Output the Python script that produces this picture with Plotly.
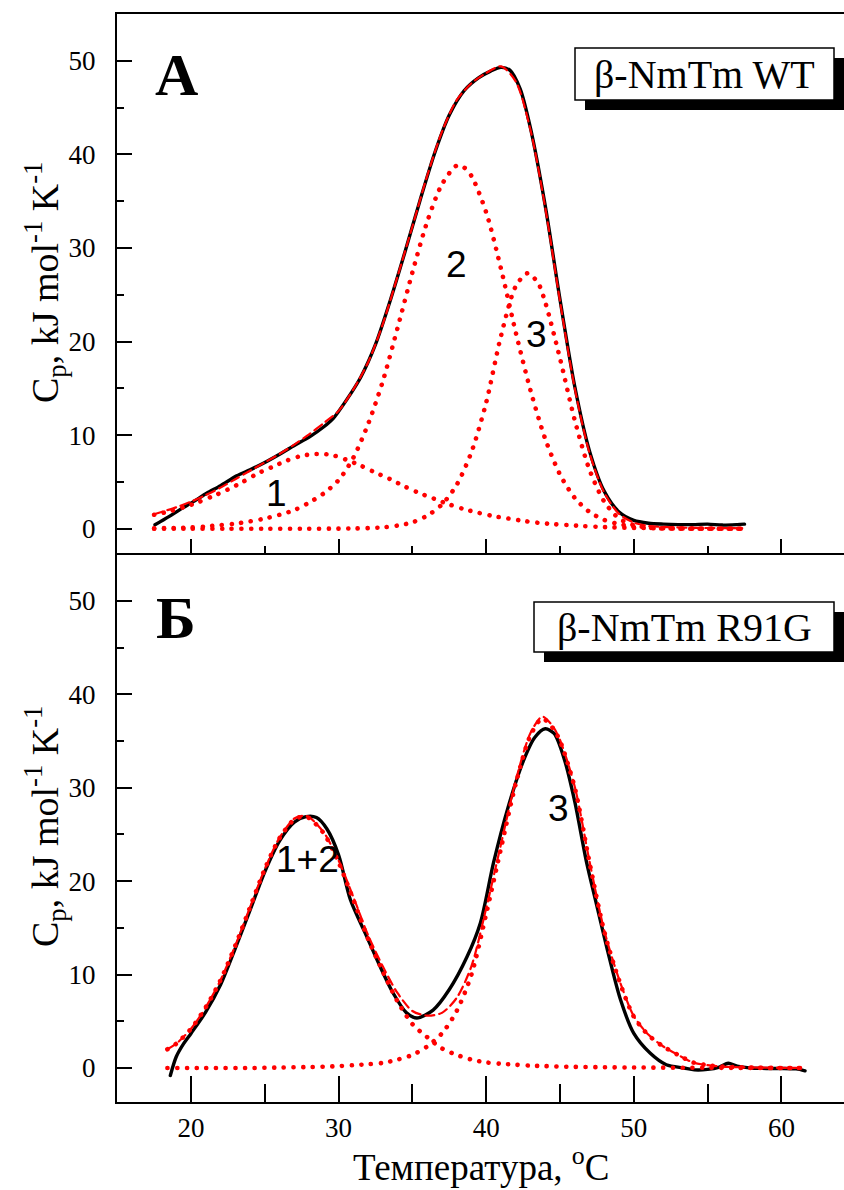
import plotly.graph_objects as go

# ---------------- DATA ----------------
# Panel A: beta-NmTm WT
wt_exp_T = [17.56, 18.5, 19.3, 20.16, 21.06, 22.0, 23.1, 24.0, 24.9, 26.15, 27.0, 28.06, 29.0, 29.64,
            30.55, 31.5, 32.5, 33.5, 34.5, 35.5, 36.5, 37.5, 38.5, 39.5, 40.3, 41.0, 41.6, 42.3, 43.0,
            44.0, 45.0, 46.0, 47.0, 48.0, 49.0, 50.0, 51.0, 52.0, 53.0, 54.0, 55.0, 56.0, 57.0, 57.5]
wt_exp_Cp = [0.43, 1.3, 2.1, 2.9, 3.8, 4.6, 5.66, 6.3, 7.0, 8.1, 8.9, 9.85, 10.9, 11.8,
             13.8, 16.2, 19.7, 24.4, 29.6, 35.0, 40.1, 44.2, 46.8, 48.2, 48.9, 49.3, 49.0, 47.0, 42.8,
             34.5, 24.5, 15.2, 8.3, 4.0, 1.8, 0.9, 0.6, 0.5, 0.45, 0.45, 0.5, 0.4, 0.45, 0.5]

wt_fit_T = [17.5, 18, 19, 20, 21, 22, 23, 24, 25, 26, 27, 28, 29, 30, 31, 32, 33, 34, 35, 36, 37, 38,
            39, 40, 41, 42, 43, 44, 45, 46, 47, 48, 49, 50, 51, 52, 54, 56, 57.5]
wt_fit_Cp = [1.55, 1.8, 2.3, 2.9, 3.6, 4.4, 5.3, 6.2, 7.1, 8.0, 9.0, 10.1, 11.3, 12.6, 14.9, 17.8, 21.9,
             27.0, 32.3, 37.7, 42.4, 45.8, 47.6, 48.7, 49.4, 47.8, 42.6, 34.3, 24.3, 15.0, 8.1, 3.85,
             1.6, 0.66, 0.3, 0.2, 0.1, 0.08, 0.05]

wt_g1_T = [17.5, 18.5, 19.5, 20.5, 21.5, 22.5, 23.5, 24.5, 25.5, 26.5, 27.5, 28.5, 29.5, 30.5, 31.5,
           32.5, 33.5, 34.5, 35.5, 36.5, 37.5, 38.5, 39.5, 40.5, 41.5, 42.5, 43.5, 44.5, 45.5, 46.5,
           47.5, 48.5, 50, 52, 54, 56, 57.5]
wt_g1_Cp = [1.5, 1.85, 2.3, 2.85, 3.5, 4.2, 5.0, 5.9, 6.6, 7.3, 7.8, 8.0, 7.9, 7.4, 6.75,
            6.0, 5.3, 4.5, 3.8, 3.2, 2.6, 2.1, 1.7, 1.35, 1.1, 0.85, 0.65, 0.5, 0.4, 0.3,
            0.22, 0.16, 0.1, 0.06, 0.03, 0.02, 0.01]

wt_g2_T = [17.5, 19, 20, 21, 22, 23, 24, 25, 26, 27, 28, 29, 30, 31, 32, 33, 34, 35, 36, 37, 38, 38.5,
           39, 40, 41, 42, 43, 44, 45, 46, 47, 48, 49, 50, 51, 52, 54, 57.5]
wt_g2_Cp = [0.05, 0.1, 0.15, 0.25, 0.4, 0.55, 0.8, 1.1, 1.5, 2.0, 2.8, 3.8, 5.2, 7.6, 11.2, 15.8, 21.5,
            27.4, 32.8, 36.8, 38.8, 38.6, 37.7, 33.8, 27.8, 21.0, 14.8, 9.6, 5.8, 3.3, 1.8, 0.95, 0.5,
            0.25, 0.12, 0.06, 0.02, 0.0]

wt_g3_T = [17.5, 20, 22.5, 25, 27.5, 30, 31, 32, 33, 34, 35, 36, 37, 38, 39, 40, 41, 42, 42.8, 43.5,
           44, 45, 46, 47, 48, 49, 50, 51, 52, 54, 57.5]
wt_g3_Cp = [0, 0, 0, 0, 0.01, 0.02, 0.04, 0.08, 0.15, 0.35, 0.7, 1.4, 2.6, 4.7, 8.2, 13.5, 20.6, 25.9,
            27.3, 26.3, 24.2, 18.2, 11.6, 6.3, 2.9, 1.1, 0.4, 0.12, 0.04, 0.01, 0]

# Panel B: beta-NmTm R91G
r_exp_T = [18.6, 19.0, 19.5, 20.0, 21.0, 22.0, 23.0, 24.0, 25.0, 26.0, 27.0, 27.8, 28.5, 29.2, 30.0,
           30.8, 31.9, 32.8, 33.7, 34.6, 35.3, 36.4, 37.5, 38.7, 39.6, 40.5, 41.5, 42.5, 43.3, 44.0,
           44.6, 45.3, 46.0, 46.8, 47.4, 48.2, 49.1, 50.0, 51.1, 52.2, 53.4, 54.1, 55.0, 55.8, 56.4,
           57.0, 58.0, 59.0, 60.0, 61.0, 61.6]
r_exp_Cp = [-0.8, 1.2, 2.6, 3.7, 6.0, 8.9, 12.8, 16.9, 21.0, 24.3, 26.3, 26.9, 26.8, 25.6, 22.8,
            18.0, 14.1, 10.9, 8.0, 5.9, 5.35, 6.2, 8.4, 11.9, 15.5, 22.0, 28.0, 32.8, 35.4, 36.3,
            35.8, 33.0, 28.5, 22.0, 18.0, 12.7, 7.3, 3.7, 1.6, 0.35, 0.0, -0.2, -0.15, 0.1, 0.5,
            0.2, 0.0, -0.05, -0.05, -0.1, -0.3]

r_fit_T = [18.4, 19, 20, 21, 22, 23, 24, 25, 26, 27, 27.6, 28, 29, 30, 31, 32, 33, 34, 35, 36, 37, 38,
           39, 40, 41, 42, 43, 43.8, 44.5, 45, 46, 47, 48, 49, 50, 51, 52, 53, 54, 55, 56, 58, 61.5]
r_fit_Cp = [2.0, 2.6, 4.2, 6.5, 9.4, 13.1, 17.2, 21.3, 24.65, 26.7, 27.0, 26.85, 25.2, 22.2, 18.3, 14.2,
            10.85, 8.0, 6.1, 5.6, 5.9, 7.5, 10.9, 17.1, 23.95, 30.75, 35.85, 37.6, 36.6, 35.1, 30.1,
            22.1, 14.7, 9.5, 5.55, 3.55, 2.3, 1.4, 0.6, 0.3, 0.15, 0.05, 0.0]

r_g12_T = [18.4, 19, 20, 21, 22, 23, 24, 25, 26, 27, 27.6, 28, 29, 30, 31, 32, 33, 34, 35, 36, 37, 38,
           39, 40, 41, 42, 43, 44, 46, 48, 50, 55, 61.5]
r_g12_Cp = [2.0, 2.6, 4.2, 6.5, 9.4, 13.1, 17.2, 21.3, 24.6, 26.6, 26.9, 26.75, 25.1, 22.0, 18.0, 13.8,
            10.3, 7.1, 4.7, 3.3, 2.1, 1.4, 0.9, 0.6, 0.45, 0.35, 0.25, 0.2, 0.12, 0.08, 0.05, 0.02, 0.0]

r_g3_T = [18.4, 21, 24, 26, 28, 30, 31, 32, 33, 34, 35, 36, 37, 38, 39, 40, 41, 42, 43, 43.8, 44.5, 45,
          46, 47, 48, 49, 50, 51, 52, 53, 54, 55, 56, 57, 58, 60, 61.5]
r_g3_Cp = [0, 0, 0, 0.05, 0.1, 0.2, 0.3, 0.4, 0.55, 0.9, 1.4, 2.3, 3.7, 6.1, 10.0, 16.5, 23.5, 30.4,
           35.6, 37.4, 36.4, 35.0, 30.0, 22.0, 14.6, 9.4, 5.5, 3.5, 2.3, 1.4, 0.6, 0.3, 0.15, 0.1,
           0.05, 0, 0]

x_ticks = [20, 30, 40, 50, 60]
y_ticks = [0, 10, 20, 30, 40, 50]

# ---------------- LAYOUT HELPERS ----------------
L, R, T, B = 117, 844, 14, 1102
W, H = R - L, B - T


def px(x):
    return (x - L) / W


def py(y):
    return (B - y) / H


split = py(552.5)
X_RANGE = [14.986, 64.24]
RED = '#ff0000'

fig = go.Figure()


def add(xs, ys, xa, ya, kind):
    if kind == 'exp':
        line = dict(color='black', width=3.4)
    elif kind == 'fit':
        line = dict(color=RED, width=2.2, dash='9px,5px')
    else:
        line = dict(color=RED, width=4.6, dash='0.1px,9.6px')
    fig.add_trace(go.Scatter(x=xs, y=ys, xaxis=xa, yaxis=ya, mode='lines',
                             line=dict(shape='spline', smoothing=0.8, **line),
                             showlegend=False, hoverinfo='skip'))


add(wt_exp_T, wt_exp_Cp, 'x', 'y', 'exp')
add(wt_fit_T, wt_fit_Cp, 'x', 'y', 'fit')
add(wt_g1_T, wt_g1_Cp, 'x', 'y', 'dot')
add(wt_g2_T, wt_g2_Cp, 'x', 'y', 'dot')
add(wt_g3_T, wt_g3_Cp, 'x', 'y', 'dot')

add(r_exp_T, r_exp_Cp, 'x2', 'y2', 'exp')
add(r_fit_T, r_fit_Cp, 'x2', 'y2', 'fit')
add(r_g12_T, r_g12_Cp, 'x2', 'y2', 'dot')
add(r_g3_T, r_g3_Cp, 'x2', 'y2', 'dot')

tickfont = dict(family='Liberation Serif', size=27, color='black')
common = dict(showgrid=False, zeroline=False, showline=True, linecolor='black', linewidth=2,
              ticks='inside', tickcolor='black', tickwidth=1.5)


def minor(n):
    return dict(dtick=5, tick0=0, ticks='inside', ticklen=n, tickcolor='black', tickwidth=1.5)


fig.update_layout(
    width=844, height=1190,
    margin=dict(l=L, r=844 - R, t=T, b=1190 - B),
    paper_bgcolor='white', plot_bgcolor='white',
    xaxis=dict(domain=[0, 1], anchor='y', range=X_RANGE, tickvals=x_ticks, ticklen=14,
               showticklabels=False, mirror=True, minor=minor(7), **common),
    yaxis=dict(domain=[split, 1], anchor='x', range=[-2.53, 55], tickvals=y_ticks, ticklen=15,
               minor=minor(7), tickfont=tickfont, ticklabelstandoff=14, **common),
    xaxis2=dict(domain=[0, 1], anchor='y2', range=X_RANGE, tickvals=x_ticks, ticklen=26,
                minor=minor(18), tickfont=tickfont, ticklabelstandoff=1, **common),
    yaxis2=dict(domain=[0, split], anchor='x2', range=[-3.64, 55.17], tickvals=y_ticks, ticklen=15,
                minor=minor(7), tickfont=tickfont, ticklabelstandoff=14, **common),
)

serif = 'Liberation Serif'
ann = []
ytitle = 'C<sub>p</sub>, kJ mol<sup>-1</sup> K<sup>-1</sup>'
for yc in (283, 827):
    ann.append(dict(text=ytitle, xref='paper', yref='paper', x=px(45), y=py(yc), textangle=-90,
                    showarrow=False, xanchor='center', yanchor='middle',
                    font=dict(family=serif, size=38, color='black')))
ann.append(dict(text='Температура, <sup>o</sup>C', xref='paper', yref='paper', x=px(481), y=py(1164),
                showarrow=False, xanchor='center', yanchor='middle',
                font=dict(family=serif, size=37, color='black')))
ann.append(dict(text='<b>А</b>', xref='paper', yref='paper', x=px(176), y=py(75), showarrow=False,
                xanchor='center', yanchor='middle', font=dict(family=serif, size=60, color='black')))
ann.append(dict(text='<b>Б</b>', xref='paper', yref='paper', x=px(176), y=py(618), showarrow=False,
                xanchor='center', yanchor='middle', font=dict(family=serif, size=60, color='black')))

# boxed labels with drop shadow
boxes = [('β-NmTm WT', 575, 834, 48, 100), ('β-NmTm R91G', 534, 834, 602, 652)]
shapes = []
for text, x0, x1, y0, y1 in boxes:
    shapes.append(dict(type='rect', xref='paper', yref='paper', x0=px(x0 + 10), x1=px(x1 + 11),
                       y0=py(y1 + 10), y1=py(y0 + 10), fillcolor='black', line=dict(width=0)))
    shapes.append(dict(type='rect', xref='paper', yref='paper', x0=px(x0), x1=px(x1),
                       y0=py(y1), y1=py(y0), fillcolor='white', line=dict(color='black', width=1.5)))
    ann.append(dict(text=text, xref='paper', yref='paper', x=px((x0 + x1) / 2), y=py((y0 + y1) / 2),
                    showarrow=False, xanchor='center', yanchor='middle',
                    font=dict(family=serif, size=40, color='black')))

sans = dict(family='Liberation Sans', size=37, color='black')
labels = [('1', 25.8, 3.8, 'x', 'y'), ('2', 38.0, 28.2, 'x', 'y'), ('3', 43.4, 20.8, 'x', 'y'),
          ('1+2', 27.9, 22.3, 'x2', 'y2'), ('3', 44.9, 27.8, 'x2', 'y2')]
for t, xv, yv, xr, yr in labels:
    ann.append(dict(text=t, x=xv, y=yv, xref=xr, yref=yr, showarrow=False,
                    xanchor='center', yanchor='middle', font=sans))

fig.update_layout(annotations=ann, shapes=shapes)

post = ("var s=document.createElement('style');"
        "s.innerHTML='.js-line{stroke-linecap:round !important;}';"
        "document.head.appendChild(s);")
fig.write_html('out.html', post_script=post)
